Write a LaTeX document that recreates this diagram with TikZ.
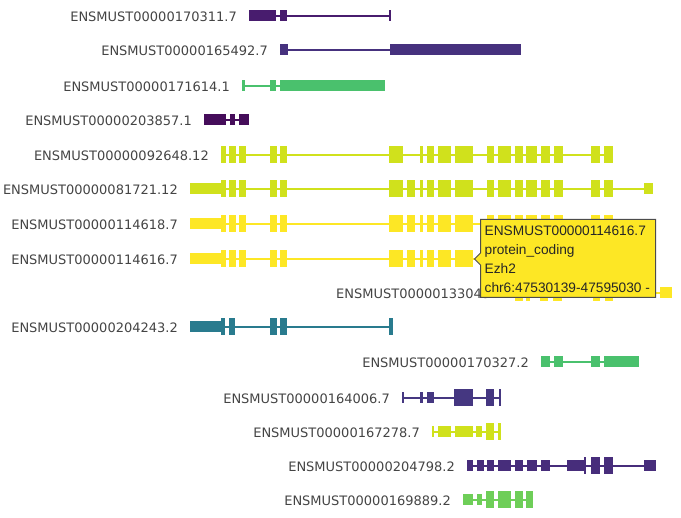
\documentclass[tikz,border=0pt]{standalone}
\usepackage{fontspec}
\setmainfont{DejaVu Sans}
\newfontfamily\tipfont{Liberation Sans}
\definecolor{lblgray}{HTML}{444444}
\definecolor{cA}{HTML}{481C6E}
\definecolor{cB}{HTML}{46317E}
\definecolor{cC}{HTML}{4AC16D}
\definecolor{cD}{HTML}{450D5A}
\definecolor{cE}{HTML}{D0E11C}
\definecolor{cF}{HTML}{FDE725}
\definecolor{cG}{HTML}{297B8E}
\definecolor{cH}{HTML}{453781}
\definecolor{cI}{HTML}{472D7B}
\definecolor{cJ}{HTML}{6ECE58}
\newcommand\myutr[4]{\fill[#1] (#2,{#4-5.5}) rectangle (#3,{#4+5.5});}
\newcommand\mycds[4]{\fill[#1] (#2,{#4-8.5}) rectangle (#3,{#4+8.5});}
\newcommand\myintron[4]{\coordinate (s#4) at (#2,#4); \coordinate (e#4) at (#3,#4); \draw[#1, line width=2pt] (s#4) -- (e#4);}
\begin{document}
\begin{tikzpicture}[x=1pt,y=-1pt,
  lbl/.style={anchor=east, inner sep=0pt, text=lblgray, font=\fontsize{13}{15}\selectfont},
  tiptxt/.style={anchor=base west, inner sep=0pt, text=black!85, font=\tipfont\fontsize{13.7}{16}\selectfont},
  tipbox/.style={fill=cF, draw=black!70, line width=1pt}]
\useasboundingbox (0,0) rectangle (681,518);

% Row 1
\node[lbl] (l1) at (237,17) {ENSMUST00000170311.7};
\myintron{cA}{249}{390}{16}
\myutr{cA}{249}{276}{16}\myutr{cA}{280}{287}{16}\myutr{cA}{389}{391}{16}

% Row 2
\node[lbl] (l2) at (268,51) {ENSMUST00000165492.7};
\myintron{cB}{280}{390}{50}
\myutr{cB}{280}{288}{50}\myutr{cB}{390}{521}{50}

% Row 3
\node[lbl] (l3) at (230,87) {ENSMUST00000171614.1};
\myintron{cC}{242}{280}{86}
\myutr{cC}{242}{245}{86}\myutr{cC}{270}{276}{86}\myutr{cC}{280}{385}{86}

% Row 4
\node[lbl] (l4) at (192,121) {ENSMUST00000203857.1};
\myintron{cD}{204}{249}{120}
\myutr{cD}{204}{226}{120}\myutr{cD}{230}{235}{120}\myutr{cD}{239}{249}{120}

% Row 5
\node[lbl] (l5) at (209,156) {ENSMUST00000092648.12};
\myintron{cE}{221}{613}{155}
\foreach \a/\b in {221/226,229/235.5,239/246,270/277,280/287,389/403,420/423,427/434,438/451,455/473,487/494,498/511,515/523,526/537,541/550,554/563,591/600,604/613}
  {\mycds{cE}{\a}{\b}{155}}

% Row 6
\node[lbl] (l6) at (178,190) {ENSMUST00000081721.12};
\myintron{cE}{221}{644}{189}
\myutr{cE}{190}{221}{189}
\foreach \a/\b in {221/226,229/235.5,239/246,270/277,280/287,389/403,407/415,420/423,427/434,438/451,455/473,487/494,498/511,515/523,526/537,541/550,554/563,591/600,604/613}
  {\mycds{cE}{\a}{\b}{189}}
\myutr{cE}{644}{653}{189}

% Row 7
\node[lbl] (l7) at (178,225) {ENSMUST00000114618.7};
\myintron{cF}{221}{613}{224}
\myutr{cF}{190}{221}{224}
\foreach \a/\b in {221/226,229/235.5,239/246,270/277,280/287,389/403,407/415,420/423,427/434,438/451,455/473,487/494,498/511,515/523,526/537,541/550,554/563,591/600,604/613}
  {\mycds{cF}{\a}{\b}{224}}

% Row 8
\node[lbl] (l8) at (178,260) {ENSMUST00000114616.7};
\myintron{cF}{221}{613}{259}
\myutr{cF}{190}{221}{259}
\foreach \a/\b in {221/226,229/235.5,239/246,270/277,280/287,389/403,407/415,420/423,427/434,438/451,455/473,487/494,498/511,515/523,526/537,541/550,554/563,591/600,604/613}
  {\mycds{cF}{\a}{\b}{259}}

% Row 9
\node[lbl, anchor=west] (l9) at (336,294) {ENSMUST00000133045.7};
\myintron{cF}{514}{660}{293}
\foreach \a/\b in {515/523,526/530,540/548,553/562,593/600,605/613}
  {\mycds{cF}{\a}{\b}{293}}
\myutr{cF}{660}{672}{293}

% Row 10
\node[lbl] (l10) at (178,328) {ENSMUST00000204243.2};
\myintron{cG}{221}{391}{327}
\myutr{cG}{190}{221}{327}
\foreach \a/\b in {221/225,229/235,270/277,280/287,389/393}
  {\mycds{cG}{\a}{\b}{327}}

% Row 11
\node[lbl] (l11) at (529,363) {ENSMUST00000170327.2};
\myintron{cC}{541}{639}{362}
\foreach \a/\b in {541/550,554/563,591/600,604/639}
  {\myutr{cC}{\a}{\b}{362}}

% Row 12
\node[lbl] (l12) at (390,399) {ENSMUST00000164006.7};
\myintron{cH}{402}{500}{398}
\foreach \a/\b in {402/404,420/423,427/434}
  {\myutr{cH}{\a}{\b}{398}}
\foreach \a/\b in {454/473,486/494,498.5/500.5}
  {\mycds{cH}{\a}{\b}{398}}

% Row 13
\node[lbl] (l13) at (420,433) {ENSMUST00000167278.7};
\myintron{cE}{432}{500}{432}
\foreach \a/\b in {432/434,438/451,455/473,476/482}
  {\myutr{cE}{\a}{\b}{432}}
\foreach \a/\b in {486/494,498/500.5}
  {\mycds{cE}{\a}{\b}{432}}

% Row 14
\node[lbl] (l14) at (455,467) {ENSMUST00000204798.2};
\myintron{cI}{467}{656}{466}
\foreach \a/\b in {467/473,477/484,487/494,498/511,515/523,527/537,541/550,567/584,644/656}
  {\myutr{cI}{\a}{\b}{466}}
\foreach \a/\b in {584/586,591/600,604/613}
  {\mycds{cI}{\a}{\b}{466}}

% Row 15
\node[lbl] (l15) at (451,501) {ENSMUST00000169889.2};
\myintron{cJ}{463}{533}{500}
\foreach \a/\b in {463/473,477/482}
  {\myutr{cJ}{\a}{\b}{500}}
\foreach \a/\b in {486/494,498/511,515/523,526/533}
  {\mycds{cJ}{\a}{\b}{500}}

% Tooltip
\draw[tipbox] (480.5,219.5) -- (655.5,219.5) -- (655.5,297.5) -- (480.5,297.5)
  -- (480.5,265) -- (474.5,259) -- (480.5,253) -- cycle;
\node[tiptxt] (t1) at (484.5,236) {ENSMUST00000114616.7};
\node[tiptxt] (t2) at (484.5,255) {protein\_coding};
\node[tiptxt] (t3) at (484.5,274) {Ezh2};
\node[tiptxt] (t4) at (484.5,293) {chr6:47530139-47595030 -};
\end{tikzpicture}
\end{document}
